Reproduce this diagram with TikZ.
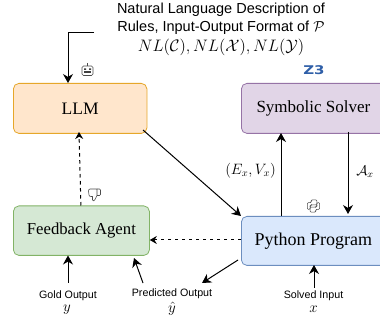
\RequirePackage{fix-cm}
\documentclass[tikz,border=0pt]{standalone}
\usepackage{graphicx}
\usepackage{fontspec}
\setmainfont{Liberation Serif}
\newfontfamily\capfont{Liberation Sans}
\newfontfamily\zfont{DejaVu Sans}
\usetikzlibrary{arrows.meta}
\definecolor{llmfill}{HTML}{FFE6CC}\definecolor{llmline}{HTML}{E6A72A}
\definecolor{symfill}{HTML}{E1D5E7}\definecolor{symline}{HTML}{9673A6}
\definecolor{fbfill}{HTML}{D5E8D4}\definecolor{fbline}{HTML}{82B366}
\definecolor{pyfill}{HTML}{DAE8FC}\definecolor{pyline}{HTML}{6C8EBF}
\definecolor{zblue}{HTML}{2F5FA8}
\tikzset{
 x=1pt,y=-1pt,
 blockbox/.style={rounded corners=5.5pt,line width=0.8pt,anchor=north west,inner sep=0pt},
 caption/.style={font=\capfont\fontsize{10.7}{12}\selectfont,align=center,inner sep=0pt},
 mathlabel/.style={inner sep=0pt,font=\fontsize{15}{16}\selectfont},
 solidarrow/.style={line width=1pt,-{Stealth[length=9pt,width=10pt]}},
 dasharrow/.style={line width=1pt,dash pattern=on 3.5pt off 3.5pt,-{Stealth[length=7pt,width=8pt]}},
 iconline/.style={line width=0.6pt,draw=black!70},
}
\begin{document}
\begin{tikzpicture}
\useasboundingbox (0,0) rectangle (380,320);
\clip (0,0) rectangle (380,320);
\fill[white] (0,0) rectangle (380,320);
\node[blockbox,draw=llmline,fill=llmfill,minimum width=133.5pt,minimum height=50pt,font=\fontsize{17.5}{20}\selectfont] (llm) at (13,83) {LLM};
\node[blockbox,draw=symline,fill=symfill,minimum width=144pt,minimum height=50pt,font=\fontsize{17}{20}\selectfont] (sym) at (241,83) {Symbolic Solver};
\node[blockbox,draw=fbline,fill=fbfill,minimum width=136pt,minimum height=49.5pt,font=\fontsize{16.7}{20}\selectfont] (fb) at (13,205.5) {Feedback Agent};
\node[blockbox,draw=pyline,fill=pyfill,minimum width=144pt,minimum height=49pt,font=\fontsize{18}{20}\selectfont] (py) at (241,216) {Python Program};
\node[align=center,inner sep=0pt,anchor=north] (desc) at (221,3) {\capfont\fontsize{14.5}{17}\selectfont Natural Language Description of\\[3pt]\capfont\fontsize{14.5}{17}\selectfont Rules, Input-Output Format of $\mathcal{P}$\\[3.5pt]\fontsize{16.6}{18}\selectfont $NL(\mathcal{C}), NL(\mathcal{X}), NL(\mathcal{Y})$};
\coordinate (descin) at (94,33);
\coordinate (bend) at (68,33);
\draw[solidarrow] (descin) -- (bend) -- (68,83);
% robot icon
\draw[iconline,rounded corners=1.5pt] (82,66) rectangle (93,75.5);
\draw[iconline] (87.5,66) -- (87.5,63.5);
\fill[black!75] (84,68.5) rectangle (86,70) (89,68.5) rectangle (91,70);
\fill[black!75] (84,71) rectangle (91,73.5);
% Z3 logo
\node[inner sep=0pt,font=\zfont\bfseries\fontsize{12}{14}\selectfont,text=zblue] (z3) at (314,70) {\scalebox{1.25}[1]{Z3}};
\draw[solidarrow] (143,130) -- (py.north west);
\draw[dasharrow] (fb.north) ++(-0.5,0) -- (79,132);
% thumbs-down icon
\draw[iconline,line join=round] (97,189) -- (90,189) .. controls (89,189) and (88.5,190) .. (88.5,191) -- (89,195) .. controls (89,196) and (90,196.5) .. (91,196.5) -- (92.5,196.5) -- (92.5,200) .. controls (93,201.5) and (94.5,201) .. (95,199.5) -- (97,195.5) -- cycle;
\draw[iconline,rounded corners=1pt] (97,189) -- (100.5,189) -- (100.5,195.5) -- (97,195.5);
\draw[dasharrow] (241,240) -- (fb.east |- 0,240);
\draw[solidarrow] (281,216) -- (281,133);
\draw[solidarrow] (348,132) -- (348,214);
\node[mathlabel] (ev) at (250.5,171) {$(E_x,V_x)$};
\node[mathlabel,font=\fontsize{14}{16}\selectfont] (ax) at (365,172) {$\mathcal{A}_x$};
% python icon
\begin{scope}[shift={(313.5,206)},scale=1.12,iconline]
\draw[rounded corners=1pt] (-2,-5.5) -- (3,-5.5) -- (3,-1) -- (-2,-1) -- (-3,0) -- (-3,3) -- (-5.5,3) -- (-5.5,-3) -- (-2,-3) -- cycle;
\draw[rounded corners=1pt] (2,5.5) -- (-3,5.5) -- (-3,1) -- (2,1) -- (3,0) -- (3,-3) -- (5.5,-3) -- (5.5,3) -- (2,3) -- cycle;
\end{scope}
\node[caption] (gold) at (68,296) {Gold Output};
\node[mathlabel] (goldy) at (67,310) {$y$};
\node[caption] (pred) at (172,294) {Predicted Output};
\node[mathlabel] (predy) at (172,309) {$\hat{y}$};
\node[caption] (solved) at (313.5,296) {Solved Input};
\node[mathlabel] (solvedx) at (313.5,309) {$x$};
\draw[solidarrow] (68,283) -- (68,255.5);
\draw[solidarrow] (143,283) -- (134,258);
\draw[solidarrow] (238,260) -- (202,283);
\draw[solidarrow] (314,288) -- (314,265);
\end{tikzpicture}
\end{document}
